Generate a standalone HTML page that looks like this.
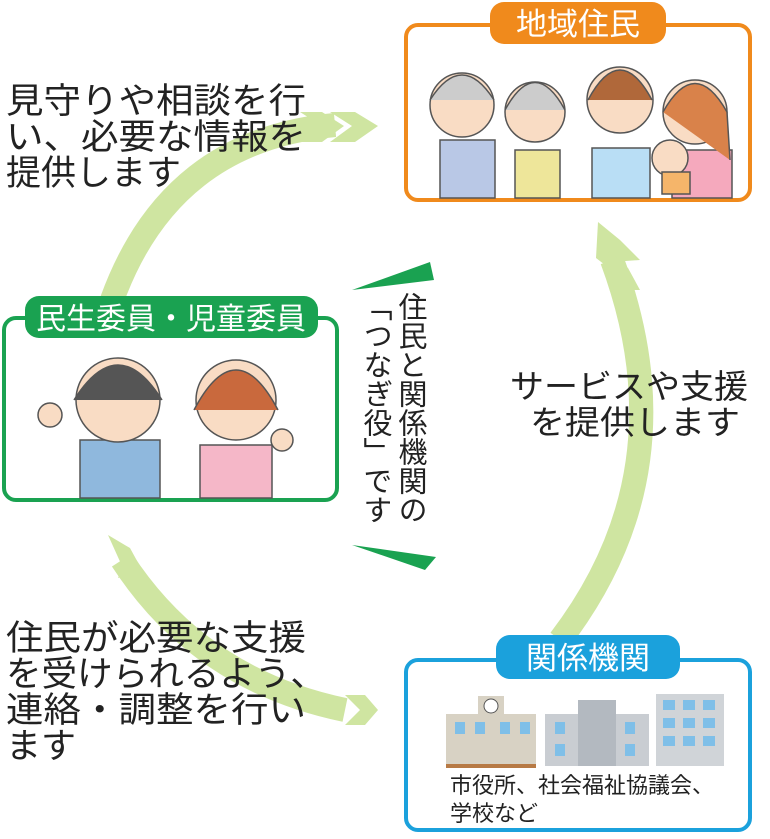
<!DOCTYPE html>
<html><head><meta charset="utf-8"><style>
body{margin:0;background:#fff;width:770px;height:834px;overflow:hidden}
text{font-family:"Liberation Sans","Noto Sans CJK JP",sans-serif}
</style></head><body>
<svg width="770" height="834" viewBox="0 0 770 834" xmlns="http://www.w3.org/2000/svg">
<!-- arrows -->
<g fill="none" stroke="#cfe5a1" stroke-width="24">
<path d="M112 300 Q170 140 335 125"/>
<path d="M560 640 Q690 470 612 260"/>
<path d="M122 560 Q200 680 345 710"/>
</g>
<g fill="#cfe5a1">
<polygon points="330,112 355,112 378,126 355,142 330,142 352,126"/>
<polygon points="300,112 322,112 344,126 322,142 300,142 322,126"/>
<polygon points="598,222 620,240 640,260 612,262 618,275 596,258"/>
<polygon points="608,250 628,268 640,290 614,290"/>
<polygon points="108,535 130,548 142,570 118,578 122,566"/>
<polygon points="345,695 365,695 378,710 365,725 345,725 360,710"/>
</g>
<!-- green triangles -->
<polygon points="352,290 430,262 434,280" fill="#1aa251"/>
<polygon points="352,545 436,557 425,570" fill="#1aa251"/>
<!-- orange box -->
<rect x="406" y="25" width="344" height="175" rx="12" fill="#fff" stroke="#f08a1c" stroke-width="4"/>
<rect x="490" y="2" width="176" height="42" rx="14" fill="#f08a1c"/>
<text x="578" y="35" font-size="31" fill="#fff" text-anchor="middle">地域住民</text>
<!-- people -->
<g stroke="#555" stroke-width="1.5">
<rect x="440" y="140" width="55" height="58" fill="#b9c8e6"/><circle cx="462" cy="105" r="32" fill="#f9dcc4"/><path d="M430 100 Q462 50 494 100" fill="#ccc"/>
<rect x="515" y="150" width="45" height="48" fill="#eee69a"/><circle cx="535" cy="112" r="30" fill="#f9dcc4"/><path d="M505 110 Q535 55 565 110" fill="#ccc"/>
<rect x="592" y="148" width="58" height="50" fill="#b9def5"/><circle cx="620" cy="100" r="33" fill="#f9dcc4"/><path d="M588 100 Q620 40 652 100" fill="#b0683a"/>
<rect x="672" y="150" width="60" height="48" fill="#f5a9bd"/><circle cx="695" cy="112" r="32" fill="#f9dcc4"/><path d="M663 112 Q695 55 727 112 L730 160" fill="#d9824a"/>
<circle cx="670" cy="158" r="18" fill="#f9dcc4"/><rect x="662" y="172" width="28" height="22" fill="#f5b56a"/>
</g>
<!-- green box -->
<rect x="4" y="318" width="333" height="182" rx="12" fill="#fff" stroke="#1aa251" stroke-width="4"/>
<rect x="25" y="296" width="293" height="42" rx="14" fill="#1aa251"/>
<text x="171" y="329" font-size="30" fill="#fff" text-anchor="middle" textLength="270" lengthAdjust="spacingAndGlyphs">民生委員・児童委員</text>
<g stroke="#555" stroke-width="1.5">
<rect x="80" y="440" width="80" height="58" fill="#8fb8dd"/><circle cx="118" cy="400" r="42" fill="#f9dcc4"/><path d="M74 400 Q118 330 162 400" fill="#555"/>
<circle cx="50" cy="415" r="12" fill="#f9dcc4"/>
<rect x="200" y="445" width="72" height="53" fill="#f5b7c8"/><circle cx="236" cy="400" r="40" fill="#f9dcc4"/><path d="M194 410 Q236 330 278 410" fill="#c9693d"/>
<circle cx="282" cy="440" r="11" fill="#f9dcc4"/>
</g>
<!-- blue box -->
<rect x="406" y="660" width="344" height="170" rx="12" fill="#fff" stroke="#1ba1dc" stroke-width="4"/>
<rect x="496" y="635" width="184" height="44" rx="14" fill="#1ba1dc"/>
<text x="588" y="669" font-size="31" fill="#fff" text-anchor="middle">関係機関</text>
<g>
<rect x="446" y="714" width="90" height="52" fill="#d8d2c4"/><rect x="478" y="696" width="26" height="20" fill="#d8d2c4"/><circle cx="491" cy="706" r="7" fill="#fff" stroke="#555"/>
<rect x="446" y="764" width="90" height="4" fill="#b77a45"/>
<rect x="545" y="714" width="104" height="52" fill="#c9cdd2"/><rect x="578" y="700" width="38" height="66" fill="#b3b9c0"/>
<rect x="656" y="694" width="68" height="72" fill="#d0d4d8"/>
<g fill="#7fbfe8"><rect x="663" y="700" width="12" height="10"/><rect x="683" y="700" width="12" height="10"/><rect x="703" y="700" width="12" height="10"/><rect x="663" y="718" width="12" height="10"/><rect x="683" y="718" width="12" height="10"/><rect x="703" y="718" width="12" height="10"/><rect x="663" y="736" width="12" height="10"/><rect x="683" y="736" width="12" height="10"/><rect x="703" y="736" width="12" height="10"/>
<rect x="455" y="722" width="10" height="12"/><rect x="475" y="722" width="10" height="12"/><rect x="500" y="722" width="10" height="12"/><rect x="520" y="722" width="10" height="12"/><rect x="555" y="722" width="10" height="12"/><rect x="625" y="722" width="10" height="12"/><rect x="555" y="744" width="10" height="12"/><rect x="625" y="744" width="10" height="12"/></g>
</g>
<text font-size="22" fill="#222"><tspan x="450" y="793">市役所、社会福祉協議会、</tspan><tspan x="450" y="821">学校など</tspan></text>
<!-- texts -->
<text font-size="35" fill="#222"><tspan x="6" y="113" textLength="300" lengthAdjust="spacingAndGlyphs">見守りや相談を行</tspan><tspan x="6" y="149" textLength="300" lengthAdjust="spacingAndGlyphs">い、必要な情報を</tspan><tspan x="6" y="185">提供します</tspan></text>
<text font-size="35" fill="#222"><tspan x="6" y="650" textLength="300" lengthAdjust="spacingAndGlyphs">住民が必要な支援</tspan><tspan x="6" y="686" textLength="320" lengthAdjust="spacingAndGlyphs">を受けられるよう、</tspan><tspan x="6" y="722" textLength="300" lengthAdjust="spacingAndGlyphs">連絡・調整を行い</tspan><tspan x="6" y="758">ます</tspan></text>
<text font-size="33" fill="#222"><tspan x="510" y="398" textLength="238" lengthAdjust="spacingAndGlyphs">サービスや支援</tspan><tspan x="530" y="434" textLength="210" lengthAdjust="spacingAndGlyphs">を提供します</tspan></text>
<text font-size="29" fill="#222" style="writing-mode:vertical-rl"><tspan x="410" y="292">住民と関係機関の</tspan><tspan x="375" y="292">「つなぎ役」です</tspan></text>
</svg>
</body></html>
